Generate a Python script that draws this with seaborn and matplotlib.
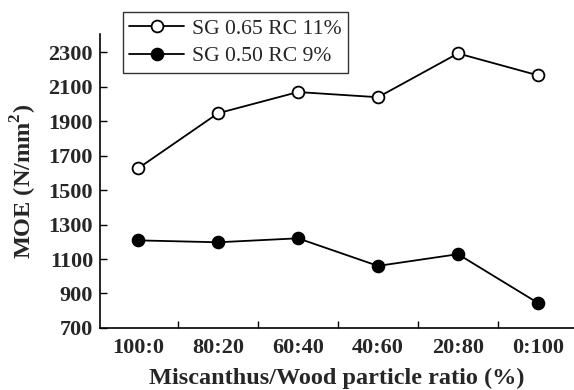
import matplotlib
matplotlib.use("Agg")
import matplotlib.pyplot as plt
import seaborn as sns
import pandas as pd

categories = ["100:0", "80:20", "60:40", "40:60", "20:80", "0:100"]
sg065 = [1625, 1945, 2068, 2038, 2292, 2165]
sg050 = [1208, 1197, 1220, 1060, 1128, 845]
series_names = ["SG 0.65 RC 11%", "SG 0.50 RC 9%"]
yticks = [700, 900, 1100, 1300, 1500, 1700, 1900, 2100, 2300]

sns.set_style("ticks")
plt.rcParams["font.family"] = ["Liberation Serif", "DejaVu Serif"]
plt.rcParams["mathtext.fontset"] = "custom"
plt.rcParams["mathtext.rm"] = "Liberation Serif"
plt.rcParams["mathtext.bf"] = "Liberation Serif:bold"

df = pd.DataFrame({
    "x": list(range(len(categories))) * 2,
    "y": sg065 + sg050,
    "s": [series_names[0]] * len(categories) + [series_names[1]] * len(categories),
})

fig = plt.figure(figsize=(5.74, 3.90), dpi=100)
ax = fig.add_axes([0.1742, 0.159, 0.8258, 0.754])

for name, face in zip(series_names, ["white", "black"]):
    sub = df[df["s"] == name]
    sns.lineplot(data=sub, x="x", y="y", ax=ax, color="black", lw=1.3,
                 marker="o", markersize=8.5, markerfacecolor=face,
                 markeredgecolor="black", markeredgewidth=1.3, label=name)

ax.set_xlim(-0.475, 5.45)
ax.set_ylim(700, 2405)
ax.set_yticks(yticks)
ax.set_yticklabels([str(v) for v in yticks], fontsize=16, fontweight="bold")
ax.set_xticks([i + 0.5 for i in range(len(categories) - 1)])
ax.set_xticklabels([])
ax.set_xticks(list(range(len(categories))), minor=True)
ax.set_xticklabels(categories, minor=True, fontsize=16, fontweight="bold")
ax.tick_params(axis="x", which="minor", length=0, pad=7)
ax.tick_params(axis="both", which="major", direction="in", length=5, width=1, color="black")
ax.tick_params(axis="y", pad=5)
for side in ["top", "right"]:
    ax.spines[side].set_visible(False)
for side in ["left", "bottom"]:
    ax.spines[side].set_linewidth(1.2)
    ax.spines[side].set_color("black")

ax.set_xlabel("Miscanthus/Wood particle ratio (%)", fontsize=17.5, fontweight="bold", labelpad=7)
ax.set_ylabel(r"MOE (N/mm$^{\mathbf{2}}$)", fontsize=17.5, fontweight="bold", labelpad=7)

leg = ax.legend(loc="upper left", bbox_to_anchor=(0.0485, 1.075), frameon=True, fancybox=False,
                edgecolor="black", fontsize=15.6, handlelength=2.5, borderpad=0.3,
                labelspacing=0.35, handletextpad=0.4, borderaxespad=0)
leg.get_frame().set_linewidth(1.0)

fig.savefig("out.png", dpi=100)
